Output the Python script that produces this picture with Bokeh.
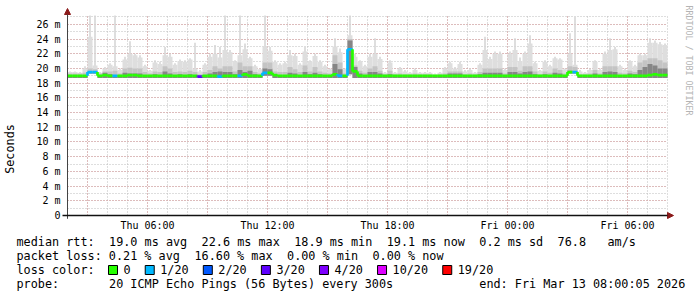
import math
import re
from bokeh.plotting import figure
from bokeh.models import Range1d, FixedTicker, Label, Arrow, NormalHead
from bokeh.embed import file_html
from bokeh.resources import INLINE
from bokeh.core.properties import value

FONT = "DejaVu Sans Mono"

# ---------------- data (15-minute bins starting Thu 02:00) ----------------
start_hour = 2.0          # hours since Thu 00:00
end_hour = 32.0           # Fri 08:00
bin_hours = 0.25
y_top = 27.2

# highest single ping per bin (thin spikes)
smoke_max = [
    19.6, 19.6, 19.5, 20.3, 27.2, 27.2, 19.5, 20.2, 20.7, 27.2,
    20.0, 21.6, 23.7, 22.0, 21.8, 20.5, 19.8, 21.1, 20.9, 22.9,
    22.0, 20.7, 21.2, 21.1, 21.4, 23.5, 19.8, 20.7, 22.0, 23.2,
    22.9, 27.2, 22.5, 21.1, 27.2, 23.4, 21.6, 20.5, 20.0, 27.2,
    22.9, 21.1, 20.7, 20.9, 22.5, 22.0, 20.7, 22.9, 21.1, 22.0,
    21.1, 20.5, 20.0, 24.1, 22.7, 20.0, 27.2, 22.0, 21.1, 20.5,
    22.0, 24.1, 21.6, 19.5, 21.1, 19.5, 20.2, 19.8, 19.5, 20.0,
    19.5, 19.5, 19.5, 19.3, 19.5, 20.2, 20.9, 20.2, 20.9, 19.8,
    20.0, 19.5, 20.7, 24.3, 21.6, 22.3, 22.3, 20.0, 22.3, 24.1,
    21.5, 22.3, 24.5, 20.9, 19.8, 21.1, 20.5, 21.6, 21.4, 20.0,
    24.8, 27.0, 19.8, 19.5, 20.0, 21.1, 20.0, 22.3, 24.1, 22.9,
    20.5, 20.0, 21.1, 20.5, 22.0, 22.0, 24.1, 23.8, 23.6, 23.4,
]

# top of the light smoke body per bin
smoke_body = [
    19.5, 19.5, 19.4, 20.0, 24.3, 20.4, 19.4, 20.0, 20.5, 20.3,
    19.8, 21.2, 22.0, 21.8, 21.5, 20.3, 19.7, 20.8, 20.6, 21.8,
    21.6, 20.5, 21.0, 20.9, 21.2, 20.0, 19.6, 20.5, 21.6, 22.0,
    21.5, 22.5, 22.2, 20.9, 21.8, 22.6, 21.4, 20.3, 19.9, 23.0,
    22.4, 20.9, 20.5, 20.7, 21.8, 21.7, 20.5, 22.3, 20.9, 21.7,
    20.9, 20.3, 19.9, 23.0, 22.2, 19.9, 24.5, 21.6, 20.9, 20.3,
    21.6, 22.0, 21.3, 19.4, 20.8, 19.4, 20.0, 19.6, 19.4, 19.8,
    19.4, 19.4, 19.4, 19.2, 19.4, 20.0, 20.7, 20.0, 20.6, 19.6,
    19.8, 19.4, 20.5, 22.5, 21.3, 22.0, 22.0, 19.8, 22.0, 22.5,
    21.0, 22.0, 23.4, 20.7, 19.7, 20.9, 20.3, 21.4, 21.2, 19.9,
    22.0, 20.5, 19.6, 19.4, 19.8, 20.9, 19.8, 22.0, 22.5, 22.6,
    20.3, 19.8, 20.9, 20.3, 21.8, 21.8, 23.5, 23.5, 23.3, 23.2,
]

smoke_mid = [
    19.3, 19.3, 19.3, 19.4, 20.0, 19.9, 19.3, 19.6, 19.6, 19.7,
    19.3, 20.0, 20.1, 20.0, 20.0, 19.5, 19.3, 19.6, 19.5, 20.3,
    20.0, 19.5, 19.6, 19.5, 19.7, 19.5, 19.2, 19.5, 19.8, 20.3,
    20.0, 20.3, 20.3, 19.6, 20.8, 20.3, 20.3, 19.5, 19.3, 20.8,
    20.8, 19.6, 19.5, 19.5, 20.2, 19.9, 19.5, 20.4, 19.6, 20.2,
    19.6, 19.4, 19.3, 21.8, 20.8, 19.3, 24.0, 20.4, 19.7, 19.4,
    20.0, 20.3, 19.7, 19.2, 19.7, 19.2, 19.3, 19.2, 19.2, 19.3,
    19.2, 19.2, 19.2, 19.1, 19.2, 19.3, 19.6, 19.6, 19.6, 19.2,
    19.3, 19.2, 19.5, 20.0, 20.0, 20.0, 20.0, 19.3, 20.2, 20.2,
    19.7, 20.3, 20.3, 19.6, 19.2, 19.6, 19.4, 20.0, 19.8, 19.3,
    20.3, 20.2, 19.2, 19.2, 19.3, 19.8, 19.3, 20.3, 20.3, 20.3,
    19.4, 19.3, 19.7, 19.5, 20.8, 21.1, 21.4, 21.4, 21.1, 20.8,
]

smoke_dark = [
    19.1, 19.1, 19.1, 19.1, 19.6, 19.6, 19.1, 19.4, 19.2, 19.1,
    19.1, 19.4, 19.3, 19.3, 19.3, 19.1, 19.1, 19.2, 19.1, 19.6,
    19.3, 19.1, 19.2, 19.1, 19.2, 19.1, 19.0, 19.1, 19.3, 19.5,
    19.6, 19.5, 19.5, 19.2, 19.8, 19.5, 19.7, 19.2, 19.1, 20.0,
    19.9, 19.2, 19.1, 19.1, 19.4, 19.3, 19.1, 19.5, 19.2, 19.4,
    19.2, 19.1, 19.1, 20.6, 19.9, 19.1, 23.8, 20.2, 19.3, 19.1,
    19.5, 19.5, 19.3, 19.1, 19.2, 19.1, 19.1, 19.1, 19.1, 19.1,
    19.1, 19.1, 19.1, 19.1, 19.1, 19.1, 19.3, 19.3, 19.3, 19.1,
    19.1, 19.1, 19.2, 19.4, 19.4, 19.4, 19.4, 19.1, 19.5, 19.5,
    19.3, 19.5, 19.6, 19.2, 19.1, 19.2, 19.1, 19.4, 19.3, 19.1,
    19.7, 19.6, 19.1, 19.1, 19.1, 19.3, 19.1, 19.5, 19.6, 19.5,
    19.1, 19.1, 19.3, 19.2, 19.8, 20.2, 20.6, 20.4, 20.0, 20.0,
]

smoke_min = [
    18.7, 18.7, 18.7, 18.7, 19.3, 19.3, 18.7, 18.7, 18.7, 18.7,
    18.7, 18.7, 18.7, 18.7, 18.7, 18.7, 18.7, 18.7, 18.7, 18.7,
    18.7, 18.7, 18.7, 18.7, 18.7, 18.7, 18.7, 18.7, 18.7, 18.7,
    18.7, 18.7, 18.7, 18.7, 18.7, 18.7, 18.7, 18.7, 18.7, 19.0,
    19.0, 18.7, 18.7, 18.7, 18.7, 18.7, 18.7, 18.7, 18.7, 18.7,
    18.7, 18.7, 18.7, 18.7, 18.7, 18.7, 19.2, 18.7, 18.7, 18.7,
    18.7, 18.7, 18.7, 18.7, 18.7, 18.7, 18.7, 18.7, 18.7, 18.7,
    18.7, 18.7, 18.7, 18.7, 18.7, 18.7, 18.7, 18.7, 18.7, 18.7,
    18.7, 18.7, 18.7, 18.7, 18.7, 18.7, 18.7, 18.7, 18.7, 18.7,
    18.7, 18.7, 18.7, 18.7, 18.7, 18.7, 18.7, 18.7, 18.7, 18.7,
    19.3, 19.3, 18.7, 18.7, 18.7, 18.7, 18.7, 18.7, 18.7, 18.7,
    18.7, 18.7, 18.7, 18.7, 18.7, 18.7, 18.7, 18.7, 18.7, 18.7,
]

median = [
    19.0, 19.0, 19.0, 19.0, 19.5, 19.5, 19.0, 19.1, 19.0, 19.0,
    19.0, 19.0, 19.1, 19.1, 19.0, 19.0, 19.0, 19.0, 19.0, 19.0,
    19.0, 19.0, 19.0, 19.0, 19.0, 19.0, 18.9, 19.0, 19.0, 19.0,
    18.9, 19.0, 19.0, 19.0, 19.0, 19.2, 19.0, 19.0, 19.0, 19.4,
    19.4, 19.1, 19.0, 19.0, 19.0, 19.0, 19.0, 19.0, 19.0, 19.0,
    19.0, 19.0, 19.0, 19.2, 19.0, 19.0, 22.6, 19.6, 19.0, 19.0,
    19.0, 19.0, 19.0, 19.0, 19.0, 19.0, 19.0, 19.0, 19.0, 19.0,
    19.0, 19.0, 19.0, 19.0, 19.0, 19.0, 19.0, 19.0, 19.0, 19.0,
    19.0, 19.0, 19.0, 19.0, 19.0, 19.0, 19.0, 19.0, 19.0, 19.0,
    19.0, 19.0, 19.0, 19.0, 19.0, 19.0, 19.0, 19.0, 19.0, 19.0,
    19.5, 19.5, 19.0, 19.0, 19.0, 19.0, 19.0, 19.0, 19.0, 19.0,
    19.0, 19.0, 19.0, 19.0, 19.0, 19.0, 19.1, 19.2, 19.1, 19.1,
]

loss = [
    0, 0, 0, 0, 1, 1, 0, 0, 0, 1,
    0, 0, 0, 0, 0, 0, 0, 0, 0, 0,
    0, 0, 0, 0, 0, 0, 3, 0, 0, 0,
    1, 0, 0, 0, 1, 0, 0, 0, 0, 1,
    0, 0, 0, 0, 0, 0, 0, 0, 0, 0,
    0, 0, 0, 0, 1, 0, 1, 0, 0, 0,
    0, 0, 0, 0, 0, 0, 0, 0, 0, 0,
    0, 0, 0, 0, 0, 0, 0, 0, 0, 0,
    0, 0, 0, 0, 0, 0, 0, 0, 0, 0,
    0, 0, 0, 0, 0, 0, 0, 0, 0, 0,
    0, 1, 0, 0, 0, 0, 0, 0, 0, 0,
    0, 0, 0, 0, 0, 0, 0, 0, 0, 0,
]

loss_levels = [0, 1, 2, 3, 4, 10, 19]
loss_colors = ["#26ff00", "#00b8ff", "#0059ff", "#5e00ff", "#7e00ff", "#dd00ff", "#ff0000"]
loss_labels = ["0", "1/20", "2/20", "3/20", "4/20", "10/20", "19/20"]

y_ticks = [0, 2, 4, 6, 8, 10, 12, 14, 16, 18, 20, 22, 24, 26]
x_tick_hours = [6, 12, 18, 24, 30]
x_tick_labels = ["Thu 06:00", "Thu 12:00", "Thu 18:00", "Fri 00:00", "Fri 06:00"]

rtt_stats = {"avg": 19.0, "max": 22.6, "min": 18.9, "now": 19.1, "sd": 0.2, "am_s": 76.8}
loss_stats = {"avg": 0.21, "max": 16.60, "min": 0.00, "now": 0.00}
probe_text = "20 ICMP Echo Pings (56 Bytes) every 300s"
end_text = "end: Fri Mar 13 08:00:05 2026"

# ---------------- geometry ----------------
W, H = 697, 297
PLOT_L, PLOT_T, PLOT_W, PLOT_H = 67, 15, 600, 200
px_per_h = PLOT_W / (end_hour - start_hour)
px_per_ms = PLOT_H / y_top
x_lo = start_hour - PLOT_L / px_per_h
x_hi = start_hour + (W - PLOT_L) / px_per_h
y_hi = y_top + PLOT_T / px_per_ms
y_lo = -(H - PLOT_T - PLOT_H) / px_per_ms

n = len(median)
lefts = [start_hour + i * bin_hours for i in range(n)]
rights = [l + bin_hours for l in lefts]
spike_w = 1.6 / px_per_h
spk_l = [l + bin_hours / 2 - spike_w / 2 for l in lefts]
spk_r = [l + spike_w for l in spk_l]


def loss_color(v):
    c = loss_colors[0]
    for lv, col in zip(loss_levels, loss_colors):
        if v >= lv:
            c = col
    return c


colors = [loss_color(v) for v in loss]

p = figure(width=W, height=H, x_range=Range1d(x_lo, x_hi), y_range=Range1d(y_lo, y_hi),
           output_backend="svg", toolbar_location=None, min_border=0)
p.outline_line_color = None
p.background_fill_color = "white"
p.border_fill_color = "white"
p.extra_x_ranges = {"px": Range1d(0, W)}
p.extra_y_ranges = {"px": Range1d(H, 0)}

# grids
p.xgrid.ticker = FixedTicker(ticks=list(range(3, 33, 3)), minor_ticks=list(range(2, 33)))
p.ygrid.ticker = FixedTicker(ticks=y_ticks, minor_ticks=list(range(0, 28)))
p.xgrid.bounds = (start_hour, end_hour)
p.ygrid.bounds = (0, y_top)
p.xgrid.cross_bounds = (0, y_top)
p.ygrid.cross_bounds = (start_hour, end_hour)
for g in (p.xgrid, p.ygrid):
    g.grid_line_color = "#dc9a9a"
    g.grid_line_alpha = 1.0
    g.grid_line_width = 1
    g.grid_line_dash = "1 2"
    g.minor_grid_line_color = "#bdbdbd"
    g.minor_grid_line_alpha = 1.0
    g.minor_grid_line_width = 1
    g.minor_grid_line_dash = "1 2"

# axes drawn inside the full-canvas frame
p.yaxis.fixed_location = start_hour
p.xaxis.fixed_location = 0
p.yaxis.ticker = FixedTicker(ticks=y_ticks)
p.yaxis.major_label_overrides = {t: ("0" if t == 0 else f"{t} m") for t in y_ticks}
p.xaxis.ticker = FixedTicker(ticks=x_tick_hours)
p.xaxis.major_label_overrides = {h: lab for h, lab in zip(x_tick_hours, x_tick_labels)}
for ax in (p.xaxis, p.yaxis):
    ax.axis_line_color = None
    ax.major_tick_line_color = None
    ax.minor_tick_line_color = None
    ax.major_tick_out = 0
    ax.major_tick_in = 0
    ax.minor_tick_out = 0
    ax.minor_tick_in = 0
    ax.major_label_text_font = FONT
    ax.major_label_text_font_size = "10px"
    ax.major_label_text_color = "#000000"
p.yaxis.major_label_standoff = 7
p.xaxis.major_label_standoff = 4
p.yaxis.axis_label = "Seconds"
p.yaxis.axis_label_text_font = FONT
p.yaxis.axis_label_text_font_size = "11.8px"
p.yaxis.axis_label_text_font_style = "normal"
p.yaxis.axis_label_text_color = "#000000"
p.yaxis.axis_label_standoff = 16

# smoke
p.quad(left=spk_l, right=spk_r, bottom=smoke_min, top=smoke_max,
       fill_color="#d6d6d6", line_color=None)
p.quad(left=lefts, right=rights, bottom=smoke_min, top=smoke_body,
       fill_color="#dedede", line_color=None)
p.quad(left=lefts, right=rights, bottom=smoke_min, top=smoke_mid,
       fill_color="#c4c4c4", line_color=None)
p.quad(left=lefts, right=rights, bottom=smoke_min, top=smoke_dark,
       fill_color="#868686", line_color=None)

# median line coloured by loss
p.segment(x0=lefts, y0=median, x1=rights, y1=median, line_color=colors, line_width=2.7)
p.segment(x0=rights[:-1], y0=median[:-1], x1=rights[:-1], y1=median[1:],
          line_color=colors[1:], line_width=2.7)

# axis lines with arrows
arrow_col = "#8b1a1a"
p.add_layout(Arrow(end=NormalHead(size=6, fill_color=arrow_col, line_color=arrow_col),
                   x_start=start_hour, y_start=-0.45, x_end=start_hour, y_end=y_top + 0.95,
                   line_color="#444444", line_width=1))
p.add_layout(Arrow(end=NormalHead(size=6, fill_color=arrow_col, line_color=arrow_col),
                   x_start=start_hour - 0.25, y_start=0, x_end=end_hour + 0.3, y_end=0,
                   line_color="#111111", line_width=1.5))

p.add_layout(Label(x=688, y=5, x_range_name="px", y_range_name="px",
                   text="RRDTOOL / TOBI OETIKER", angle=-math.pi / 2,
                   text_font=FONT, text_font_size="8.3px", text_color="#b4b4b4",
                   text_align="left", text_baseline="middle"))

# ---------------- statistics / legend text ----------------
cw = 7.12
x0 = 16
line1 = (f"median rtt:  {rtt_stats['avg']:.1f} ms avg  {rtt_stats['max']:.1f} ms max  "
         f"{rtt_stats['min']:.1f} ms min  {rtt_stats['now']:.1f} ms now  "
         f"{rtt_stats['sd']:.1f} ms sd  {rtt_stats['am_s']:.1f}   am/s")
line2 = (f"packet loss: {loss_stats['avg']:.2f} % avg  {loss_stats['max']:.2f} % max  "
         f"{loss_stats['min']:.2f} % min  {loss_stats['now']:.2f} % now")
line3 = "loss color:"
line4 = f"probe:       {probe_text}            {end_text}"
line_y = [241, 255, 269, 283]

tx, ty, tt = [], [], []
for line, yy in zip([line1, line2, line3, line4], line_y):
    for m in re.finditer(r"\S+(?: \S+)*", line):
        tx.append(x0 + m.start() * cw)
        ty.append(yy)
        tt.append(m.group(0))

box_x, lab_x = [], []
cur = 108
for lab in loss_labels:
    box_x.append(cur + 4.5)
    lab_x.append(cur + 15)
    cur = cur + 15 + len(lab) * cw + 14.6
tx += lab_x
ty += [line_y[2]] * len(lab_x)
tt += loss_labels

p.text(x=tx, y=ty, text=tt, x_range_name="px", y_range_name="px",
       text_font=value(FONT), text_font_size="11.8px", text_baseline="middle",
       text_color="#000000")
p.rect(x=box_x, y=[line_y[2] + 0.5] * len(box_x), width=9, height=9,
       x_range_name="px", y_range_name="px", fill_color=loss_colors,
       line_color="#000000", line_width=1)

open("out.html", "w").write(file_html(p, INLINE))
